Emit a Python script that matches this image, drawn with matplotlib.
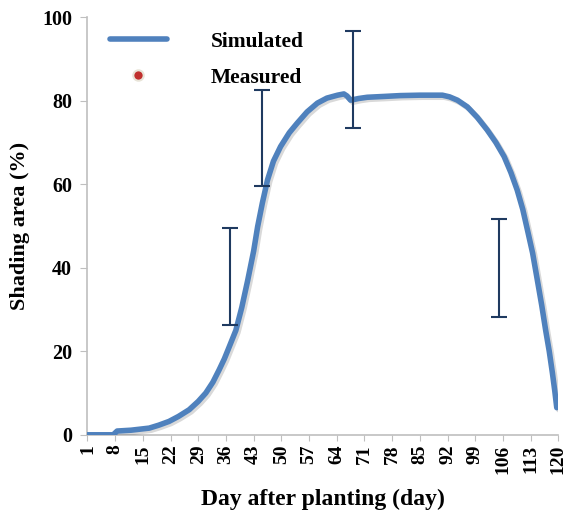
import numpy as np
import matplotlib.pyplot as plt
import matplotlib.patheffects as pe
from matplotlib.lines import Line2D

plt.rcParams['font.family'] = ['Liberation Serif', 'DejaVu Serif']
plt.rcParams['font.weight'] = 'bold'

# simulated shading area (%)
sim_day = [1, 7.5, 8.5, 12, 16.6, 19, 21.6, 24, 26.7, 29, 30.9, 32.7, 34.3, 35.6,
           36.8, 38.5, 40, 41.5, 43, 44, 45.2, 46.5, 48, 49.8, 52, 54, 56.5, 59.1,
           61.5, 64.2, 65.8, 66.6, 67.5, 69.5, 71.7, 76, 80, 85, 90.7, 92.5, 94.5,
           97, 99.5, 102, 104.2, 106.3, 108, 109.6, 111, 112.2, 113.5, 114.7,
           115.8, 116.8, 117.7, 118.5, 119.1, 119.6]
sim_val = [0, 0, 0.9, 1.1, 1.6, 2.3, 3.2, 4.4, 6.0, 8.0, 10.0, 12.6, 15.6, 18.2,
           21.0, 25.0, 30.5, 37.0, 44.0, 49.8, 55.5, 61.0, 65.5, 69.0, 72.3, 74.6,
           77.3, 79.4, 80.6, 81.3, 81.6, 81.1, 80.1, 80.5, 80.8, 81.0, 81.2, 81.3,
           81.3, 80.9, 80.1, 78.5, 76.0, 73.0, 70.0, 66.6, 62.8, 58.6, 54.0, 49.0,
           43.5, 37.0, 31.0, 25.0, 20.0, 14.8, 10.5, 6.5]

# measured (only error bars are drawn in the original)
meas_day = [37, 45, 68, 105]
meas_val = [38, 71, 85, 40]
meas_err = [11.6, 11.5, 11.6, 11.7]

xticks = list(range(1, 121, 7))

fig = plt.figure(figsize=(5.68, 5.17), dpi=100)
ax = fig.add_axes([0.154, 0.159, 0.829, 0.808])

ax.plot(sim_day, sim_val, color='#4F81BD', lw=4.0, solid_capstyle='round',
        solid_joinstyle='round',
        path_effects=[pe.SimpleLineShadow(offset=(1.5, -1.5), alpha=0.15), pe.Normal()],
        zorder=3)
ax.errorbar(meas_day, meas_val, yerr=meas_err, fmt='none', ecolor='#1F3A60',
            elinewidth=1.5, capsize=6, capthick=1.5, zorder=4)

ax.set_xlim(1, 120)
ax.set_ylim(0, 100)
ax.set_xticks(xticks)
ax.set_xticklabels([str(t) for t in xticks], rotation=90, fontsize=14, fontweight='bold')
ax.set_yticks(range(0, 101, 20))
ax.tick_params(axis='y', labelsize=14.5, color='#BFBFBF', length=5, pad=6)
ax.tick_params(axis='x', color='#BFBFBF', length=4, pad=3)
for s in ['top', 'right']:
    ax.spines[s].set_visible(False)
for s in ['left', 'bottom']:
    ax.spines[s].set_color('#BFBFBF')
    ax.spines[s].set_linewidth(1.2)

ax.set_xlabel('Day after planting (day)', fontsize=17, fontweight='bold', labelpad=11)
ax.set_ylabel('Shading area (%)', fontsize=16, fontweight='bold', labelpad=9)

handles = [Line2D([], [], color='#4F81BD', lw=4.0, solid_capstyle='round'),
           Line2D([], [], color='#C0302E', marker='o', ls='none', markersize=7.5,
                  markeredgecolor='#E8E4D8', markeredgewidth=1.5)]
ax.legend(handles, ['Simulated', 'Measured'], loc='upper left',
          bbox_to_anchor=(0.047, 0.965), frameon=False, handlelength=2.65,
          handletextpad=2.05, labelspacing=0.75, borderpad=0, borderaxespad=0,
          prop={'size': 15.5, 'weight': 'bold'})

fig.savefig('out.png', dpi=100)
